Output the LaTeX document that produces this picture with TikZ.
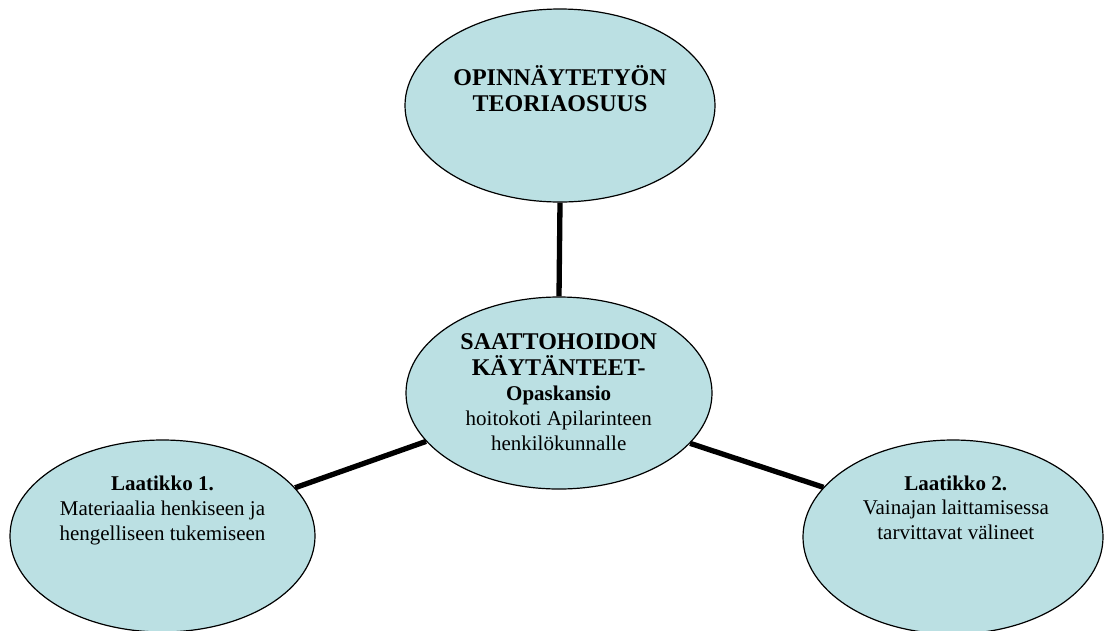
\documentclass[tikz,border=0pt]{standalone}
\usepackage{fontspec}
\setmainfont{Liberation Serif}
\usetikzlibrary{shapes.geometric}
\definecolor{bubble}{RGB}{187,224,227}
\tikzset{
  bubble/.style={ellipse, draw=black, line width=1.2pt, fill=bubble, inner sep=0pt},
  link/.style={line width=5.3pt, draw=black},
  txt/.style={align=center, inner sep=0pt, anchor=base}
}
\begin{document}
\begin{tikzpicture}[x=1pt,y=-1pt]
\path[use as bounding box] (0,0) rectangle (1105,630);
\clip (0,0) rectangle (1105,630);
% ellipses
\node[bubble, minimum width=310pt, minimum height=193pt] (top) at (560,105.5) {};
\node[bubble, minimum width=306pt, minimum height=192pt] (mid) at (559,393) {};
\node[bubble, minimum width=305pt, minimum height=192pt] (left) at (162.5,536) {};
\node[bubble, minimum width=300pt, minimum height=194pt] (right) at (953,537) {};
% connectors
\draw[link] (top.south) -- (mid.north);
\draw[link] (left.20) -- (mid.200.7);
\draw[link] (mid.339.4) -- (right.159.3);
% texts (anchor = baseline of last line)
\node[txt, font=\fontsize{24}{26.7}\selectfont\bfseries] (toptext) at (560,111.7)
  {OPINNÄYTETYÖN\\TEORIAOSUUS};
\node[txt, font=\fontsize{21}{25.2}\selectfont] (midtext) at (558.7,450.7)
  {{\fontsize{24}{25.2}\selectfont\bfseries SAATTOHOIDON}\\
   {\fontsize{24}{25.2}\selectfont\bfseries KÄYTÄNTEET-}\\
   {\bfseries Opaskansio}\\
   hoitokoti Apilarinteen\\
   henkilökunnalle};
\node[txt, font=\fontsize{21}{24.8}\selectfont] (lefttext) at (162.5,540)
  {{\bfseries Laatikko 1.}\\Materiaalia henkiseen ja\\hengelliseen tukemiseen};
\node[txt, font=\fontsize{21}{24.4}\selectfont] (righttext) at (955.8,539)
  {{\bfseries Laatikko 2.}\\Vainajan laittamisessa\\tarvittavat välineet};
\end{tikzpicture}
\end{document}
